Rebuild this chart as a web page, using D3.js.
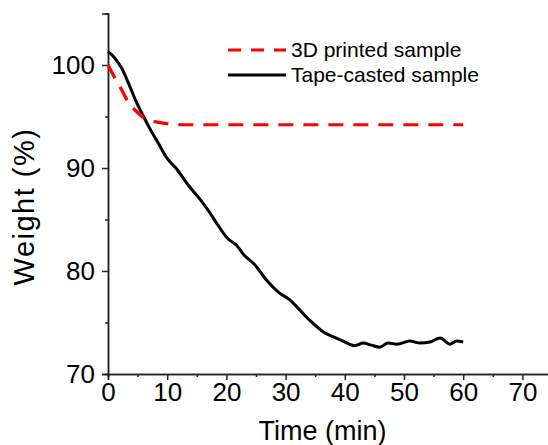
<!DOCTYPE html>
<html>
<head>
<meta charset="utf-8">
<script src="https://cdn.jsdelivr.net/npm/d3@7"></script>
<style>
    body { margin: 0; background: #fff; }
    svg { display: block; font-family: "Liberation Sans", Arial, sans-serif; }
</style>
</head>
<body>
<div id="chart"></div>
<script>
// Data.
const timePrinted = [0, 1.2, 2.3, 3.4, 4.8, 6.2, 7.9, 9.9, 12.2, 20, 30, 40, 50, 60];
const weightPrinted = [100.0, 98.7, 97.6, 96.4, 95.5, 94.8, 94.5, 94.3, 94.2, 94.2, 94.2, 94.2, 94.2, 94.2];

const timeTape = [0, 0.8, 1.5, 2.3, 3.7, 4.8, 6.0, 7.1, 8.5, 9.9, 11.6, 13.6, 15.5, 16.9, 18.4,
    20.3, 21.7, 22.9, 24.8, 26.8, 29.1, 30.5, 32.1, 34.1, 36.6, 38.1, 39.7, 41.7, 43.1,
    44.5, 45.9, 47.3, 48.8, 51.0, 52.7, 54.4, 56.1, 57.8, 58.9, 60.0];
const weightTape = [101.3, 100.9, 100.4, 99.7, 97.9, 96.4, 95.0, 93.8, 92.4, 91.0, 89.9, 88.3, 87.0, 85.9, 84.6,
    83.1, 82.5, 81.6, 80.6, 79.1, 77.8, 77.3, 76.4, 75.2, 74.0, 73.6, 73.2, 72.75, 73.0,
    72.8, 72.6, 73.0, 72.9, 73.2, 73.0, 73.1, 73.5, 72.9, 73.2, 73.1];

const xTicks = [0, 10, 20, 30, 40, 50, 60, 70];
const xMinorTicks = [5, 15, 25, 35, 45, 55, 65];
const yTicks = [70, 80, 90, 100];
const yMinorTicks = [75, 85, 95];
const seriesNames = ['3D printed sample', 'Tape-casted sample'];

const WIDTH = 548;
const HEIGHT = 445;

const svg = d3.select('#chart').append('svg')
    .attr('width', WIDTH)
    .attr('height', HEIGHT);

const xScale = d3.scaleLinear().domain([0, 75]).range([108, 552]);
const yScale = d3.scaleLinear().domain([70, 105]).range([374, 13.5]);

const axisColor = '#222';

// Minor ticks first, then major ticks with labels.
const xMinor = d3.axisBottom(xScale).tickValues(xMinorTicks).tickSize(3).tickFormat('');
const xMajor = d3.axisBottom(xScale).tickValues(xTicks).tickSize(6).tickPadding(3);
const yMinor = d3.axisLeft(yScale).tickValues(yMinorTicks).tickSize(3).tickFormat('');
const yMajor = d3.axisLeft(yScale).tickValues(yTicks).tickSize(6).tickPadding(7);

const styleAxis = g => {
    g.selectAll('.domain').attr('stroke', axisColor).attr('stroke-width', 1.5);
    g.selectAll('.tick line').attr('stroke', axisColor).attr('stroke-width', 1.5);
    g.selectAll('.tick text')
        .attr('fill', '#000')
        .style('font-family', '"Liberation Sans", Arial, sans-serif')
        .style('font-size', '26px');
};

svg.append('g').attr('transform', 'translate(0,374)').call(xMinor).call(styleAxis);
svg.append('g').attr('transform', 'translate(0,374)').call(xMajor).call(styleAxis);
svg.append('g').attr('transform', 'translate(108,0)').call(yMinor).call(styleAxis);
svg.append('g').attr('transform', 'translate(108,0)').call(yMajor).call(styleAxis);

// Axis titles.
svg.append('text')
    .attr('x', 322.5)
    .attr('y', 440)
    .attr('text-anchor', 'middle')
    .style('font-size', '27px')
    .text('Time (min)');

svg.append('text')
    .attr('transform', 'translate(34,206.5) rotate(-90)')
    .attr('text-anchor', 'middle')
    .style('font-size', '29px')
    .style('letter-spacing', '1.5px')
    .text('Weight (%)');

// Curves.
const line = d3.line()
    .x(d => xScale(d[0]))
    .y(d => yScale(d[1]))
    .curve(d3.curveMonotoneX);

const printed = timePrinted.map((t, i) => [t, weightPrinted[i]]);
const tape = timeTape.map((t, i) => [t, weightTape[i]]);

svg.append('path')
    .datum(tape)
    .attr('d', line)
    .attr('fill', 'none')
    .attr('stroke', '#000')
    .attr('stroke-width', 3)
    .attr('stroke-linejoin', 'round');

svg.append('path')
    .datum(printed)
    .attr('d', line)
    .attr('fill', 'none')
    .attr('stroke', '#f00')
    .attr('stroke-width', 3.2)
    .attr('stroke-dasharray', '15,10');

// Legend.
const legend = svg.append('g');
const legendStyles = [
    {color: '#f00', dash: '13,10', y: 50},
    {color: '#000', dash: null, y: 75}
];
seriesNames.forEach((name, i) => {
    const s = legendStyles[i];
    legend.append('line')
        .attr('x1', 228).attr('x2', 286)
        .attr('y1', s.y).attr('y2', s.y)
        .attr('stroke', s.color)
        .attr('stroke-width', 3)
        .attr('stroke-dasharray', s.dash);
    legend.append('text')
        .attr('x', 291)
        .attr('y', s.y + 7)
        .style('font-size', '21px')
        .text(name);
});
</script>
</body>
</html>
